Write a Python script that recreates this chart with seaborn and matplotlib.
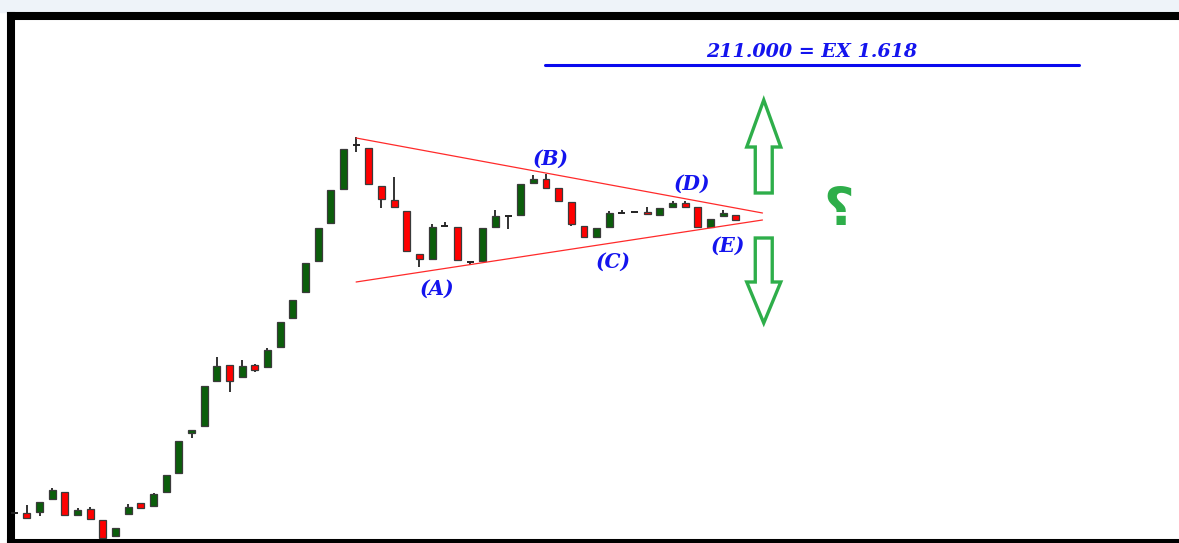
import numpy as np
import pandas as pd
import seaborn as sns
import matplotlib.pyplot as plt
from matplotlib.patches import FancyArrow, Rectangle

# Candles (index = session), prices
opens = [31.8, 31.8, 32.2, 37.4, 40.2, 31.0, 33.4, 29.0, 22.6, 31.4,
         35.8, 34.6, 40.2, 47.8, 63.8, 66.6, 84.6, 91.0, 86.2, 91.0,
         90.2, 98.2, 109.8, 120.2, 132.6, 147.8, 161.4, 179.0, 177.8, 162.6,
         157.0, 152.6, 135.4, 133.4, 146.6, 146.2, 132.2, 132.6, 146.2, 150.6,
         151.0, 163.8, 165.4, 161.8, 156.2, 146.6, 142.2, 146.2, 151.8, 152.2,
         152.2, 151.0, 154.2, 155.8, 154.2, 146.2, 150.6, 151.0]
highs = [32.2, 35.0, 36.2, 41.8, 40.2, 33.8, 34.2, 29.0, 25.8, 35.4,
         35.8, 39.8, 47.0, 60.6, 65.0, 82.6, 94.2, 91.0, 93.0, 91.4,
         97.8, 108.2, 117.0, 131.8, 145.8, 161.0, 177.4, 182.2, 177.8, 162.6,
         166.2, 152.6, 135.4, 147.4, 148.2, 146.2, 132.2, 145.8, 153.0, 150.6,
         163.4, 167.0, 167.4, 161.8, 156.2, 146.6, 145.8, 152.6, 153.0, 152.2,
         154.2, 153.8, 156.6, 156.6, 154.2, 149.4, 153.0, 151.0]
lows = [31.4, 29.8, 30.6, 37.4, 31.0, 31.0, 29.4, 21.8, 22.6, 31.4,
        33.4, 34.6, 40.2, 47.8, 61.8, 66.6, 84.6, 80.2, 86.2, 88.2,
        90.2, 98.2, 109.8, 120.2, 132.6, 147.8, 161.4, 176.2, 163.4, 153.8,
        154.2, 136.6, 130.2, 133.4, 146.5, 133.0, 131.0, 132.6, 146.2, 145.4,
        151.0, 163.8, 161.4, 156.6, 146.6, 142.2, 142.2, 146.2, 151.8, 152.2,
        151.4, 151.0, 154.2, 154.2, 146.2, 146.2, 150.6, 149.0]
closes = [31.8, 29.8, 36.2, 41.0, 31.0, 33.0, 29.4, 21.8, 25.8, 34.2,
          33.8, 39.4, 47.0, 60.6, 65.0, 82.6, 90.6, 84.6, 90.6, 89.0,
          97.0, 108.2, 117.0, 131.8, 145.8, 161.0, 177.4, 178.9, 163.4, 157.4,
          154.2, 136.6, 133.4, 146.2, 146.5, 133.0, 132.2, 145.8, 150.6, 150.5,
          163.4, 165.4, 161.8, 156.6, 147.4, 142.2, 145.8, 151.8, 151.8, 152.2,
          151.4, 153.8, 155.8, 154.2, 146.2, 149.4, 151.8, 149.0]

# Triangle trend lines (session, price)
upper_x = [27, 59.1]
upper_y = [181.8, 151.8]
lower_x = [27, 59.1]
lower_y = [124.2, 149.0]

# Wave labels
wave_labels = ['(A)', '(B)', '(C)', '(D)', '(E)']
wave_x = [33.4, 42.4, 47.3, 53.5, 56.4]
wave_y = [121.4, 173.4, 132.2, 163.4, 138.6]

# Target level
target_text = '211.000 = EX 1.618'
target_price = 211.0
target_from, target_to = 41.9, 84.1

df = pd.DataFrame({'open': opens, 'high': highs, 'low': lows, 'close': closes})
df['x'] = np.arange(len(df))
df['up'] = df['close'] >= df['open']
df['doji'] = (df['close'] - df['open']).abs() < 0.3

sns.set_theme(style='white')
plt.rcParams['font.family'] = ['DejaVu Sans', 'Noto Sans CJK SC']

fig = plt.figure(figsize=(11.79, 5.43), dpi=100)
fig.add_artist(Rectangle((0, 531 / 543), 1, 12 / 543, transform=fig.transFigure,
                         color='#eef3f9', zorder=0))
ax = fig.add_axes([11 / 1179, 0, 1 - 11 / 1179, 527 / 543])

green = '#0b5e0b'
red = '#ff0000'
w = 0.55

# wicks
ax.vlines(df['x'], df['low'], df['high'], color='#222222', lw=1.3, zorder=2)

# bodies
body = df[~df['doji']]
bottoms = body[['open', 'close']].min(axis=1)
heights = (body['close'] - body['open']).abs()
ax.bar(body['x'], heights, bottom=bottoms, width=w,
       color=np.where(body['up'], green, red), edgecolor='#3a3a3a', lw=0.9, zorder=3)

# doji dashes
dj = df[df['doji']]
ax.hlines(dj['open'], dj['x'] - w / 2, dj['x'] + w / 2, color='#222222', lw=1.4, zorder=3)

# triangle
ax.plot(upper_x, upper_y, color='#ff2a2a', lw=0.9, zorder=4)
ax.plot(lower_x, lower_y, color='#ff2a2a', lw=0.9, zorder=4)

for lab, x, y in zip(wave_labels, wave_x, wave_y):
    ax.text(x, y, lab, color='#1414ee', fontsize=14.5, fontweight='bold', fontstyle='italic',
            family='DejaVu Serif', ha='center', va='center', zorder=5)

# target line
ax.plot([target_from, target_to], [target_price, target_price], color='#0a0aee', lw=2.2)
ax.text((target_from + target_to) / 2, target_price + 1.4, target_text, color='#1414ee',
        fontsize=13.8, fontweight='bold', fontstyle='italic', family='DejaVu Serif',
        ha='center', va='bottom')

# breakout arrows
arrow_green = '#2eae4a'
ax.add_patch(FancyArrow(59.2, 159.8, 0, 37.2, width=1.34, head_width=2.69, head_length=18.8,
                        length_includes_head=True, fill=False, edgecolor=arrow_green, lw=2.4))
ax.add_patch(FancyArrow(59.2, 141.8, 0, -34.0, width=1.34, head_width=2.69, head_length=16.4,
                        length_includes_head=True, fill=False, edgecolor=arrow_green, lw=2.4))
ax.text(65.1, 153.0, '\u061f', color=arrow_green, fontsize=38, fontweight='bold',
        family=['DejaVu Sans', 'Noto Sans CJK SC', 'Noto Sans'], ha='center', va='center')

ax.set_xlim(-0.26, 92.0)
ax.set_ylim(19.8, 230.6)
ax.set_xticks([])
ax.set_yticks([])
for side in ['left', 'top', 'bottom']:
    ax.spines[side].set_color('black')
    ax.spines[side].set_linewidth(5.8)
ax.spines['right'].set_visible(False)

fig.savefig('out.png', dpi=100)
